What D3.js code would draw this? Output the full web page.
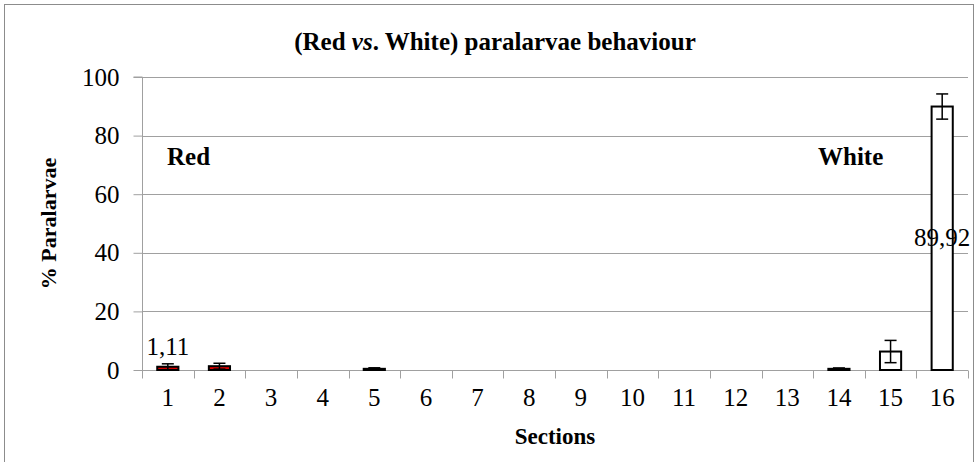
<!DOCTYPE html>
<html>
<head>
<meta charset="utf-8">
<script src="https://cdn.jsdelivr.net/npm/d3@7"></script>
<style>
  svg text, svg tspan { font-family: "Liberation Serif" !important; }
</style>
</head>
<body style="margin:0; background:#fff">
<div class="canva"></div>
<script>
// data
const sections = ["1","2","3","4","5","6","7","8","9","10","11","12","13","14","15","16"];
const meanValues = [1.11, 1.3, 0, 0, 0.4, 0, 0, 0, 0, 0, 0, 0, 0, 0.4, 6.3, 89.92];
const errValues = [1.0, 1.0, 0, 0, 0.35, 0, 0, 0, 0, 0, 0, 0, 0, 0.3, 3.8, 4.3];
const sideOf = ["Red","Red","Red","Red","Red","Red","Red","Red","White","White","White","White","White","White","White","White"];
const yTicks = [0, 20, 40, 60, 80, 100];
const shownLabels = {"1": "1,11", "16": "89,92"};

const data = sections.map((s, i) => ({ section: s, value: meanValues[i], err: errValues[i], side: sideOf[i] }));

const FONT = "Liberation Serif";
const width = 976, height = 462;
const margin = {top: 77, left: 142};
const graphWidth = 968 - margin.left;
const graphHeight = 370 - margin.top;

// every text gets the serif face both as attribute and as style
function serif(sel, size, weight) {
    return sel.attr("font-family", FONT)
        .attr("font-size", size)
        .style("font-family", `"${FONT}"`)
        .style("font-size", size + "px")
        .style("font-weight", weight || "normal");
}

const svg = d3.select(".canva").append("svg")
    .attr("width", width)
    .attr("height", height)
    .attr("font-family", FONT);

// outer frame
svg.append("rect")
    .attr("x", 4.5).attr("y", 4.5)
    .attr("width", 969).attr("height", 470)
    .attr("fill", "none")
    .attr("stroke", "#8c8c8c")
    .attr("stroke-width", 1);

const mainCanvas = svg.append("g")
    .attr("transform", `translate(${margin.left}, ${margin.top})`);

const x = d3.scaleBand()
    .domain(sections)
    .range([0, graphWidth])
    .paddingInner(0.59)
    .paddingOuter(0.295);

const xOuter = d3.scaleBand().domain(sections).range([0, graphWidth]);

const y = d3.scaleLinear()
    .domain([0, 100])
    .range([graphHeight, 0]);

// gridlines
mainCanvas.append("g")
    .selectAll("line")
    .data(yTicks.filter(t => t > 0))
    .enter().append("line")
    .attr("x1", 0).attr("x2", graphWidth)
    .attr("y1", d => Math.round(y(d)) + 0.5)
    .attr("y2", d => Math.round(y(d)) + 0.5)
    .attr("stroke", "#a0a0a0");

// y axis
const yAxis = d3.axisLeft(y).tickValues(yTicks).tickSize(9).tickPadding(14);
const yG = mainCanvas.append("g").attr("transform", "translate(0.5,0)").call(yAxis);
yG.attr("font-family", FONT).attr("font-size", 25);
yG.selectAll("path, line").attr("stroke", "#a0a0a0");
yG.select(".domain").attr("d", `M-9,${y(100)}H0V${graphHeight}`);
serif(yG.selectAll("text"), 25).attr("fill", "#000");

// x axis (ticks between categories)
const xG = mainCanvas.append("g").attr("transform", `translate(0, ${graphHeight + 0.5})`);
xG.append("line").attr("x1", 0).attr("x2", graphWidth).attr("stroke", "#a0a0a0");
xG.selectAll(".tk")
    .data(sections.concat(["end"]))
    .enter().append("line")
    .attr("class", "tk")
    .attr("x1", (d, i) => Math.round(i * xOuter.step()) + 0.5)
    .attr("x2", (d, i) => Math.round(i * xOuter.step()) + 0.5)
    .attr("y1", 0).attr("y2", 8)
    .attr("stroke", "#a0a0a0");
serif(xG.selectAll(".lbl")
    .data(sections)
    .enter().append("text")
    .attr("class", "lbl")
    .attr("x", d => xOuter(d) + xOuter.bandwidth() / 2)
    .attr("y", 35)
    .attr("text-anchor", "middle"), 25)
    .text(d => d);

// bars
mainCanvas.selectAll("rect.bar")
    .data(data)
    .enter().append("rect")
    .attr("class", "bar")
    .attr("x", d => x(d.section))
    .attr("y", d => y(d.value))
    .attr("width", x.bandwidth())
    .attr("height", d => graphHeight - y(d.value))
    .attr("fill", d => d.side === "Red" ? "#e00000" : "#ffffff")
    .attr("stroke", "#000")
    .attr("stroke-width", 2);

// error bars
const errG = mainCanvas.append("g").selectAll("g")
    .data(data.filter(d => d.err > 0))
    .enter().append("g")
    .attr("transform", d => `translate(${x(d.section) + x.bandwidth() / 2}, 0)`);
errG.append("line")
    .attr("y1", d => y(d.value + d.err)).attr("y2", d => y(Math.max(0, d.value - d.err)))
    .attr("stroke", "#000").attr("stroke-width", 1.5);
errG.append("line")
    .attr("x1", -6).attr("x2", 6)
    .attr("y1", d => y(d.value + d.err)).attr("y2", d => y(d.value + d.err))
    .attr("stroke", "#000").attr("stroke-width", 1.5);
errG.append("line")
    .attr("x1", -6).attr("x2", 6)
    .attr("y1", d => y(Math.max(0, d.value - d.err))).attr("y2", d => y(Math.max(0, d.value - d.err)))
    .attr("stroke", "#000").attr("stroke-width", 1.5);

// value labels
serif(mainCanvas.selectAll("text.val")
    .data(data.filter(d => shownLabels[d.section]))
    .enter().append("text")
    .attr("class", "val")
    .attr("x", d => x(d.section) + x.bandwidth() / 2)
    .attr("y", d => d.value > 50 ? y(d.value / 2) + 8 : y(d.value + d.err) - 9)
    .attr("text-anchor", "middle"), 25)
    .text(d => shownLabels[d.section]);

// group labels
serif(mainCanvas.append("text").attr("x", 25).attr("y", 88), 25, "bold").text("Red");
serif(mainCanvas.append("text").attr("x", 676).attr("y", 88), 25, "bold").text("White");

// title
const title = serif(svg.append("text")
    .attr("x", 495).attr("y", 50)
    .attr("text-anchor", "middle"), 25, "bold");
title.append("tspan").text("(Red ");
title.append("tspan").style("font-style", "italic").text("vs");
title.append("tspan").text(". White) paralarvae behaviour");

// axis titles
serif(svg.append("text")
    .attr("x", margin.left + graphWidth / 2)
    .attr("y", 444)
    .attr("text-anchor", "middle"), 23, "bold")
    .text("Sections");

serif(svg.append("text")
    .attr("transform", `translate(56, ${margin.top + graphHeight / 2}) rotate(-90)`)
    .attr("text-anchor", "middle"), 22, "bold")
    .text("% Paralarvae");
</script>
</body>
</html>
